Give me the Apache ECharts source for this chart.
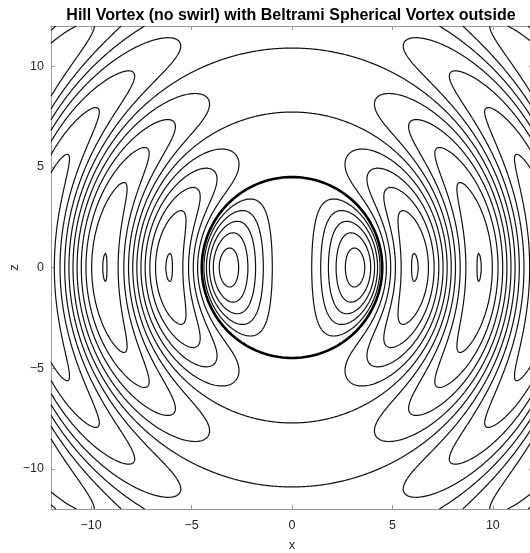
<!DOCTYPE html>
<html>
<head>
<meta charset="utf-8">
<script src="https://cdn.jsdelivr.net/npm/echarts@6/dist/echarts.min.js"></script>
<style>
  html, body { margin: 0; padding: 0; background: #fff; }
  #chart { width: 530px; height: 553px; }
</style>
</head>
<body>
<div id="chart"></div>
<script>
// ---- chart data ----
const titleText = 'Hill Vortex (no swirl) with Beltrami Spherical Vortex outside';
const xLimits = [-12, 12];
const zLimits = [-12, 12];
const xTicks = [-10, -5, 0, 5, 10];
const zTicks = [-10, -5, 0, 5, 10];
// stream-function levels drawn as contours
const contourLevels = [-1.0, -0.8, -0.6, -0.4, -0.2, 0, 0.2, 0.4, 0.6, 0.8, 1.0];
// sphere radius: first root of tan(kr) = kr (Hill vortex boundary)
const sphereRadius = [4.4934];
const waveNumber = [1];
// peak stream-function value inside the Hill vortex
const innerPeak = [1.1];
const gridPoints = [400];

// ---- field: Hill vortex inside, Beltrami (r j1(kr) sin^2) outside ----
const a = sphereRadius[0], k = waveNumber[0];
function Fout(r) { const kr = k * r; return Math.sin(kr) / kr - Math.cos(kr); }
const A = innerPeak[0] / (a * a * a * a / 4);
function psi(x, z) {
  const r2 = x * x + z * z, r = Math.sqrt(r2);
  if (r < a) return A * x * x * (a * a - r2);
  return Fout(r) * x * x / r2;
}

// ---- marching squares ----
const N = gridPoints[0];
const xs = [], ys = [];
for (let i = 0; i < N; i++) {
  xs.push(xLimits[0] + (xLimits[1] - xLimits[0]) * i / (N - 1));
  ys.push(zLimits[0] + (zLimits[1] - zLimits[0]) * i / (N - 1));
}
const V = new Float64Array(N * N);
for (let j = 0; j < N; j++) for (let i = 0; i < N; i++) V[j * N + i] = psi(xs[i], ys[j]);

function contour(lev) {
  const segs = [];
  const H = (i, j) => 2 * (j * N + i);
  const Ve = (i, j) => 2 * (j * N + i) + 1;
  for (let j = 0; j < N - 1; j++) {
    for (let i = 0; i < N - 1; i++) {
      const v0 = V[j * N + i], v1 = V[j * N + i + 1], v2 = V[(j + 1) * N + i + 1], v3 = V[(j + 1) * N + i];
      const idx = (v0 > lev ? 1 : 0) | (v1 > lev ? 2 : 0) | (v2 > lev ? 4 : 0) | (v3 > lev ? 8 : 0);
      if (idx === 0 || idx === 15) continue;
      const B = H(i, j), R = Ve(i + 1, j), T = H(i, j + 1), L = Ve(i, j);
      const c = (v0 + v1 + v2 + v3) / 4 > lev;
      switch (idx) {
        case 1: case 14: segs.push([L, B]); break;
        case 2: case 13: segs.push([B, R]); break;
        case 3: case 12: segs.push([L, R]); break;
        case 4: case 11: segs.push([R, T]); break;
        case 6: case 9: segs.push([B, T]); break;
        case 7: case 8: segs.push([L, T]); break;
        case 5: if (c) { segs.push([B, R]); segs.push([L, T]); } else { segs.push([L, B]); segs.push([R, T]); } break;
        case 10: if (c) { segs.push([L, B]); segs.push([R, T]); } else { segs.push([B, R]); segs.push([L, T]); } break;
      }
    }
  }
  function pt(e) {
    const vert = e & 1, base = e >> 1, i = base % N, j = (base - i) / N;
    if (!vert) {
      const va = V[j * N + i], vb = V[j * N + i + 1];
      const t = (lev - va) / (vb - va);
      return [xs[i] + t * (xs[i + 1] - xs[i]), ys[j]];
    } else {
      const va = V[j * N + i], vb = V[(j + 1) * N + i];
      const t = (lev - va) / (vb - va);
      return [xs[i], ys[j] + t * (ys[j + 1] - ys[j])];
    }
  }
  const adj = new Map();
  segs.forEach((s, n) => {
    for (const e of s) { if (!adj.has(e)) adj.set(e, []); adj.get(e).push(n); }
  });
  const used = new Uint8Array(segs.length);
  const lines = [];
  function walk(start, seg) {
    const out = [];
    let cur = start, prev = seg;
    while (true) {
      const list = adj.get(cur) || [];
      let nxt = -1;
      for (const s of list) if (s !== prev && !used[s]) { nxt = s; break; }
      if (nxt < 0) break;
      used[nxt] = 1;
      const other = segs[nxt][0] === cur ? segs[nxt][1] : segs[nxt][0];
      out.push(other);
      cur = other; prev = nxt;
    }
    return out;
  }
  for (let n = 0; n < segs.length; n++) {
    if (used[n]) continue;
    used[n] = 1;
    const fwd = walk(segs[n][1], n);
    const bwd = walk(segs[n][0], n);
    const chain = bwd.reverse().concat([segs[n][0], segs[n][1]], fwd);
    lines.push({ coords: chain.map(pt) });
  }
  return lines;
}

let contourData = [];
contourLevels.forEach(l => { contourData = contourData.concat(contour(l)); });

// sphere boundary (thick)
const boundary = [];
for (let t = 0; t <= 360; t += 1) {
  const th = t * Math.PI / 180;
  boundary.push([a * Math.cos(th), a * Math.sin(th)]);
}

const fmt = v => (v < 0 ? '\u2212' + Math.abs(v) : String(v));
const axisCol = '#9a9a9a';
const labCol = '#262626';
const font = 'Liberation Sans, Arial, Helvetica, sans-serif';

const chart = echarts.init(document.getElementById('chart'), null, { renderer: 'canvas' });
chart.setOption({
  animation: false,
  backgroundColor: '#fff',
  title: {
    text: titleText, left: 286, top: 3, textAlign: 'center',
    textStyle: { fontFamily: font, fontSize: 16, fontWeight: 'bold', color: '#000' }
  },
  grid: { left: 51, top: 26, width: 482, height: 483, containLabel: false, outerBoundsMode: 'none' },
  xAxis: [{
    type: 'value', min: xLimits[0], max: xLimits[1], position: 'bottom',
    name: 'x', nameLocation: 'middle', nameGap: 30, nameMoveOverlap: false,
    nameTextStyle: { fontFamily: font, fontSize: 13, color: labCol },
    axisLine: { show: true, onZero: false, lineStyle: { color: axisCol, width: 1 } },
    axisTick: { show: true, inside: true, length: 4, customValues: xTicks, lineStyle: { color: axisCol } },
    axisLabel: { show: true, customValues: xTicks, formatter: fmt, margin: 10, fontFamily: font, fontSize: 12.5, color: labCol },
    splitLine: { show: false }
  }, {
    type: 'value', min: xLimits[0], max: xLimits[1], position: 'top',
    axisLine: { show: true, onZero: false, lineStyle: { color: axisCol, width: 1 } },
    axisTick: { show: true, inside: true, length: 4, customValues: xTicks, lineStyle: { color: axisCol } },
    axisLabel: { show: false },
    splitLine: { show: false }
  }],
  yAxis: [{
    type: 'value', min: zLimits[0], max: zLimits[1], position: 'left',
    name: 'z', nameLocation: 'middle', nameGap: 30, nameRotate: 90, nameMoveOverlap: false,
    nameTextStyle: { fontFamily: font, fontSize: 13, color: labCol },
    axisLine: { show: true, onZero: false, lineStyle: { color: axisCol, width: 1 } },
    axisTick: { show: true, inside: true, length: 4, customValues: zTicks, lineStyle: { color: axisCol } },
    axisLabel: { show: true, customValues: zTicks, formatter: fmt, margin: 7, fontFamily: font, fontSize: 12.5, color: labCol },
    splitLine: { show: false }
  }, {
    type: 'value', min: zLimits[0], max: zLimits[1], position: 'right',
    axisLine: { show: true, onZero: false, lineStyle: { color: axisCol, width: 1 } },
    axisTick: { show: true, inside: true, length: 4, customValues: zTicks, lineStyle: { color: axisCol } },
    axisLabel: { show: false },
    splitLine: { show: false }
  }],
  series: [{
    type: 'lines', coordinateSystem: 'cartesian2d', xAxisIndex: 0, yAxisIndex: 0,
    polyline: true, silent: true, clip: true,
    lineStyle: { color: '#111', width: 1.2, opacity: 1 },
    data: contourData
  }, {
    type: 'line', xAxisIndex: 0, yAxisIndex: 0, data: boundary, showSymbol: false, symbol: 'none',
    silent: true, clip: true,
    lineStyle: { color: '#000', width: 2.6 }
  }]
});
</script>
</body>
</html>
